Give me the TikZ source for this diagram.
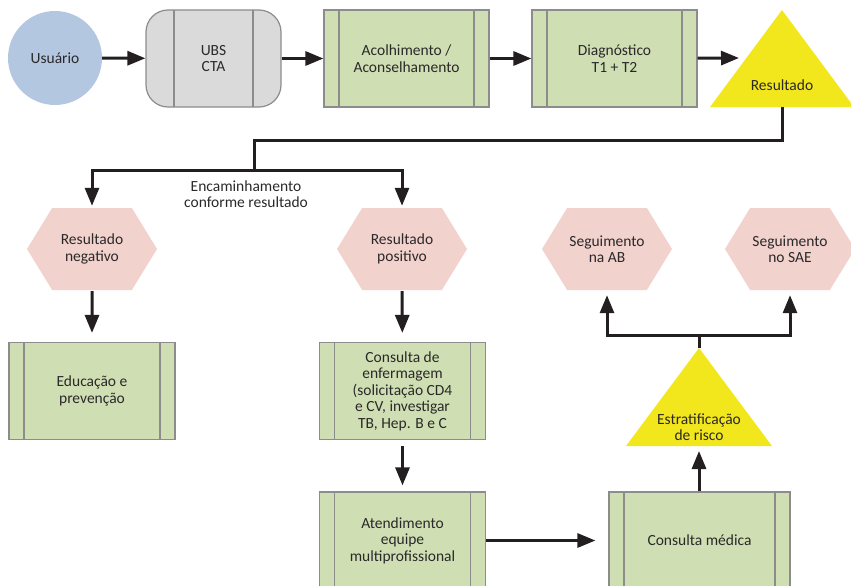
\documentclass[tikz,border=0pt]{standalone}
\usepackage{fontspec}
\setmainfont{Carlito}
\usetikzlibrary{arrows.meta,shapes.symbols}
\begin{document}
\begin{tikzpicture}[x=1pt,y=-1pt,
  font=\fontsize{15.5}{16.5}\selectfont,
  every node/.style={text=colortext, align=center},
  flow/.style={line width=3pt, draw=colorarrow, -{Triangle[length=18pt,width=14pt]}},
  link/.style={line width=3pt, draw=colorarrow},
  procbox/.style={draw=colorborder, line width=1.2pt, fill=colorproc,
    minimum width=166pt, minimum height=97pt, inner sep=0pt,
    path picture={\draw[colorborder, line width=1.2pt]
      ([xshift=#1]path picture bounding box.north west) -- ([xshift=#1]path picture bounding box.south west)
      ([xshift=-#1]path picture bounding box.north east) -- ([xshift=-#1]path picture bounding box.south east);}},
  procbox/.default=15pt,
  hexbox/.style={signal, signal to=west and east, signal pointer angle=117,
    fill=colorhex, minimum width=130pt, minimum height=82pt, inner sep=0pt}]
% Define colors
\definecolor{colortext}{HTML}{2A2829}
\definecolor{colorarrow}{HTML}{231F20}
\definecolor{colorborder}{HTML}{8C8C8C}
\definecolor{colorproc}{HTML}{D0DFB3}
\definecolor{colorubs}{HTML}{DADADA}
\definecolor{coloruser}{HTML}{B4C7E0}
\definecolor{colorhex}{HTML}{F2D2CD}
\definecolor{colortri}{HTML}{F2E61C}
\useasboundingbox (0,0) rectangle (851,586);
  %%%%%%%%%% Top row
  % Define nodes
  \node[circle, fill=coloruser, minimum size=94pt, inner sep=0pt] (usr) at (55,58) {Usuário};
  \node[procbox=28pt, fill=colorubs, rounded corners=22pt, minimum width=135pt] (ubs) at (213.5,58.5) {UBS\\CTA};
  \node[procbox, minimum width=165pt] (aco) at (406.5,58.5) {Acolhimento /\\Aconselhamento};
  \node[procbox, minimum width=165pt] (dia) at (614.5,58.5) {Diagnóstico\\T1 + T2};
  % Triangle
  \fill[colortri] (710,107) -- (782,10) -- (854,107) -- cycle;
  \node (res) at (782,85) {Resultado};
  \coordinate (resIn) at (739,58);
  \coordinate (resB) at (782,107);
  % Draw arrows
  \draw[flow] (usr) -- (ubs);
  \draw[flow] (ubs) -- (aco);
  \draw[flow] (aco) -- (dia);
  \draw[flow] (dia) -- (resIn);
  %%%%%%%%%% Branch by result
  \coordinate (split) at (254,170);
  \node[hexbox] (neg) at (92,249) {Resultado\\negativo};
  \node[hexbox] (pos) at (402,249) {Resultado\\positivo};
  \node (enc) at (246,194) {Encaminhamento\\conforme resultado};
  \draw[link] (resB) -- ++(0,33) -| (split);
  \draw[flow, shorten >=2pt] (split) -| (neg);
  \draw[flow, shorten >=2pt] (split) -| (pos);
  % Boxes below
  \node[procbox] (edu) at (92,391) {Educação e\\prevenção};
  \node[procbox] (enf) at (402.5,391) {Consulta de\\enfermagem\\(solicitação CD4\\e CV, investigar\\TB, Hep. B e C};
  \node[procbox] (ate) at (402.5,540.5) {Atendimento\\equipe\\multiprofissional};
  \node[procbox, minimum width=181pt] (med) at (699.5,540.5) {Consulta médica};
  \draw[flow, shorten <=1pt, shorten >=9pt] (neg) -- (edu);
  \draw[flow, shorten <=1pt, shorten >=9pt] (pos) -- (enf);
  \draw[flow, shorten <=6pt, shorten >=6pt] (enf) -- (ate);
  \draw[flow, shorten >=13pt] (ate) -- (ate -| med.west);
  %%%%%%%%%% Risk and follow-up
  \fill[colortri] (626,446) -- (699,348) -- (772,446) -- cycle;
  \node (est) at (699,427) {Estratificação\\de risco};
  \coordinate (estT) at (699,348);
  \coordinate (estB) at (699,446);
  \coordinate (fork) at (699,335);
  \node[hexbox] (ab) at (607,249) {Seguimento\\na AB};
  \node[hexbox] (sae) at (790,249) {Seguimento\\no SAE};
  \draw[flow, shorten >=5pt] (med.north -| estB) -- (estB);
  \draw[link] (estT) -- (fork);
  \draw[flow, shorten >=5pt] (fork) -| (ab);
  \draw[flow, shorten >=5pt] (fork) -| (sae);
\end{tikzpicture}
\end{document}
